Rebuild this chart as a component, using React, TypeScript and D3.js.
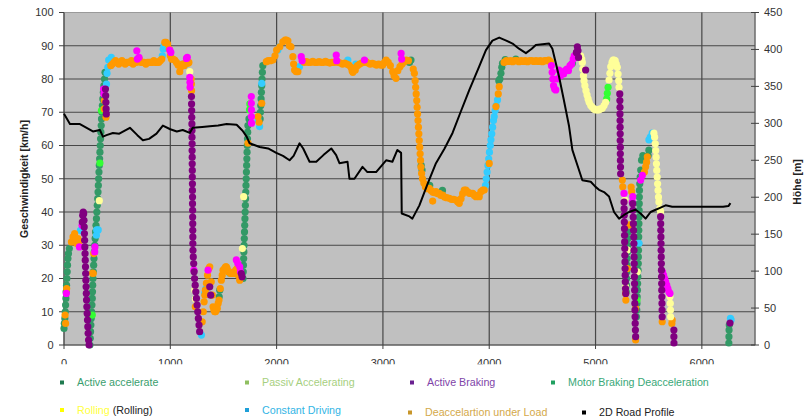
import React from "react";
import * as d3 from "d3";

type P = [number, number];

const xTicks = [0, 1000, 2000, 3000, 4000, 5000, 6000];
const speedTicks = [0, 10, 20, 30, 40, 50, 60, 70, 80, 90, 100];
const heightTicks = [0, 50, 100, 150, 200, 250, 300, 350, 400, 450];

// Active accelerate
const activeAccelerate: P[] = [
  [0,5],[3,6.5],[8,8],[12,10],[15,12],[18,14],[20,16],[24,18],[27,20],[30,22],[33,24],[37,26],[42,27.5],[50,29],
  [244,0],[247,2],[250,4],[253,6],[256,8],[260,10],[263,12],[266,14],[268,16],[270,18],[273,20],[276,22],[279,24],[282,26],[285,28],[289,30],[293,32],[297,34],[301,36],[305,38],[309,40],[313,42],[317,44],[320,46],[323,48],[326,50],[329,52],[332,54],[335,56],[338,58],[341,60],[344,62],[347,64],[350,66],[353,68],[357,70],[361,72],[365,74],[370,76],[375,78],[381,80],[386,82],
  [1460,14.5],[1465,16.5],
  [1684,20],[1686,22],[1688,24],[1690,26],[1692,28],[1694,30],[1696,32],[1698,34],[1700,36],[1702,38],[1704,40],[1706,42],[1708,44],[1710,46],[1712,48],[1714,50],[1716,52],[1718,54],[1720,56],[1722,58],[1724,60],[1726,62],[1728,64],[1730,66],[1740,68],
  [1845,68],[1848,70],[1851,72],[1854,74],[1857,76],[1860,78],[1863,80],[1866,82],[1870,84],
  [3250,85],[3264,85.7],[3360,54],[3368,52.6],[3440,48],[3560,46.5],
  [4090,79.5],[4100,80],[4110,81.7],[4118,83.5],[4125,84.7],[4150,85.8],[4250,86],
  [4782,84.7],[4810,86.5],
  [5288,16],[5290,18],[5292,20],[5294,22],[5296,24],[5298,26],[5300,28],[5302,30],[5304,32],[5306,34],
  [5385,8.5],[5388,10.5],[5390,12.5],[5392,14.5],[5394,16.5],[5396,18.5],[5398,20.5],[5400,22.5],[5402,24.5],[5403,26.5],[5404,28.5],[5405,30.5],[5406,32.5],[5407,34.5],[5408,36.5],[5409,38.5],[5410,40.5],[5411,42.5],[5412,44.5],[5413,46.5],[5416,48.5],[5420,50.5],[5425,52.6],[5433,55.6],[5445,57],[5495,57],[5502,58.6],
  [6254,0.6],[6255,2.5],[6256,4.5],[6258,6],
];

// Passiv Accelerating
const passivAccelerating: P[] = [
  [266,9],[338,54.7],[352,70.5],[1745,70.7],[1748,72.5],[5105,74],[5111,75.7],[5118,77.5],[5390,13.5],
];

// Active Braking
const activeBraking: P[] = [
  [172,37],[176,39],[181,40],[185,39.5],[188,37.5],[190,35.5],[192,33.5],[194,31.5],[196,29.5],[198,27.5],[200,25.5],[202,23.5],[204,21.5],[206,19.5],[208,17.5],[210,15.5],[212,13.5],[215,11.5],[218,9.5],[221,7.5],[224,5.5],[227,3.5],[231,1.5],[236,0],
  [390,77],[392,75],[394,73],[396,71],[398,69.5],
  [1199,74.7],[1200,72.5],[1201,70.5],[1202,68.5],[1203,66.5],[1204,64.5],[1204,62.5],[1205,60.5],[1205,58.5],[1206,56.5],[1206,54.5],[1207,52.5],[1207,50.5],[1208,48.5],[1208,46.5],[1209,44.5],[1209,42.5],[1210,40.5],[1210,38.5],[1211,36.5],[1211,34.5],[1212,32.5],[1212,30.5],[1213,28.5],[1216,26.5],[1220,24.5],[1224,22],[1228,20],[1234,18],[1240,16],[1246,14],[1252,12],[1258,10],[1264,8],[1270,6],[1276,4],
  [1371,17.5],[1380,15],[1668,21.5],[1675,20.5],
  [4820,88],[4829,89.7],[4835,88.5],[4840,86.5],[4907,82.7],
  [5228,75.5],[5229,73.5],[5230,71.5],[5230,69.5],[5231,67.5],[5231,65.5],[5232,63.5],[5232,61.5],[5233,59.5],[5233,57.5],[5234,55.5],[5235,53.5],[5236,51.5],
  [5268,43],[5269,41],[5270,39],[5271,37],[5272,35],[5273,33],[5274,31],[5275,29],[5276,27],[5277,25],[5278,23],[5279,21],[5280,19],[5282,17],[5284,15.5],
  [5350,42.5],[5352,40.5],[5354,38.5],[5356,36.5],[5358,34.5],[5360,32.5],[5361,30.5],[5362,28.5],[5363,26.5],[5364,24.5],[5365,22.5],[5366,20.5],[5367,18.5],[5368,16.5],[5369,14.5],[5370,12.5],[5371,10.5],[5372,8.5],[5373,6.5],[5375,4.5],[5377,2.5],
  [5612,38.6],[5613,36.5],[5614,34.5],[5615,32.5],[5616,30.5],[5617,28.5],[5618,26.5],[5619,24.5],[5620,22.5],[5621,20.5],[5622,18.5],[5623,16.5],[5624,14.5],[5625,12.5],[5626,10.5],[5627,8.5],
  [5737,4.5],[5737,2.5],[5738,0.6],[6265,6.6],
];

// Motor Braking Deacceleration (magenta dots in the plot)
const motorBraking: P[] = [
  [22,15.5],[145,29.5],[170,36],[289,28],[291,29.5],[372,77],[375,75.5],[685,88.5],[690,86],[705,86.5],[995,88.7],[1005,88],[1152,86.2],[1160,86.5],[1183,80.5],[1185,79],[1186,77.5],[1222,22.5],
  [1355,22.5],[1621,25.6],[1635,24.5],[1653,23.5],[1660,22],[1762,74.7],[1762,72.7],[1763,70.7],[1763,68.7],[1764,66.7],
  [2232,86.7],[2240,85.5],[2561,87.2],[2565,85.5],[2826,85.7],[3171,87.7],[3176,86],
  [4585,84],[4592,82],[4598,80],[4605,78],[4615,77],[4626,76.7],[4640,80],[4657,82.7],[4670,81],[4685,82],[4700,81.5],[4715,82.5],[4730,83],[4745,82.5],[4760,84],[4775,84.5],[4790,86],[4800,87],
  [5268,45.6],[5345,43],[5350,44.6],[5424,49.6],[5440,51],
  [5630,22],[5640,21],[5650,20],[5660,19],[5670,18],[5680,17],[5690,16],[5700,15.5],
];

// Rolling
const rolling: P[] = [
  [332,43.4],[1183,82.2],[1230,16.5],[1236,13.8],[1678,29],[1690,44.6],
  [4860,87],[4870,86],[4876,85],[4880,83],[4886,81],[4892,79.5],[4900,78],[4910,76.5],[4920,75.2],[4930,74],[4940,73],[4955,72],[4970,71.5],[4985,71],[5000,70.7],[5017,70.7],[5030,70.7],[5045,71],[5064,71.2],[5080,72],[5095,73],[5127,79.7],[5135,81.7],[5143,83.7],[5155,85],[5165,85.7],[5174,85.7],[5185,85.5],[5195,84.5],[5205,83.5],[5212,81.5],[5218,79.5],[5221,77.5],
  [5277,43.6],[5283,17.5],[5299,28.6],[5393,22],
  [5549,63.7],[5556,62.5],[5562,60.5],[5566,58.5],[5570,56.5],[5573,54.5],[5576,52.5],[5580,50.5],[5584,48.5],[5588,46.5],[5592,44.5],[5596,43],[5605,41],[5612,40.1],
  [5700,14.5],[5703,12.5],[5705,10.5],[5706,8.5],
];

// Constant Driving
const constantDriving: P[] = [
  [155,34.5],[305,33],[307,34.6],[322,34.6],[400,78.5],[405,81.7],[412,83.5],[420,85.7],[430,85.7],[445,86.5],[925,87],[933,89],[940,90],[1120,84.5],[1136,84.2],[1293,3],[1324,15.5],[1335,17],[1559,21.5],
  [1825,67.7],[1840,65.7],[1860,78.7],[2012,88.7],[2028,89.7],[2215,83.7],[2670,85.7],[2745,84.5],
  [3965,48],[3972,50],[3980,52],[3988,54],[3995,56],[4002,58],[4010,60],[4016,61.7],[4024,63.5],[4032,65.5],[4040,67.5],[4047,68.7],[4056,70.5],[4065,72],[4078,73.7],
  [5409,30.6],[5502,61.7],[5515,62.5],[5533,63.7],[6269,8],[6275,7.6],
];

// Deaccelartion under Load
const deaccelUnderLoad: P[] = [
  [10,9],[15,6.5],[25,17],[70,31],[85,32.5],[100,33.5],[110,31.5],[120,30.5],[130,32],[140,31],[269,21.6],[275,21.5],[280,27.5],[378,71],[380,73.5],[395,68.5],
  [440,84],[455,84.5],[470,85],[485,85.5],[500,85],[515,84.5],[530,85],[545,85.5],[560,85],[575,84.5],[590,85],[605,85],[620,85],[635,85.5],[650,84.5],[665,85],[680,85],[695,85.5],[710,86],[725,85],[740,85],[755,85],[770,84.5],[785,85],[800,85],[815,85],[830,85],[845,85.5],[860,85],[875,85],[890,85],[905,85.5],[920,86],
  [948,91],[960,91],[975,90.5],[990,89],[1000,87],[1011,86],[1025,86],[1042,85.7],[1058,85],[1073,84.2],[1089,82.2],[1100,83.7],[1115,84.5],[1130,84],[1150,85],[1167,84.7],[1175,85],[1196,80],[1199,78.5],[1200,76.5],[1235,11.5],
  [1300,7],[1310,10],[1318,13],[1325,15],[1330,16.5],[1340,18.6],[1350,21],[1362,23],[1371,23.5],[1385,19],[1395,15],[1402,11.5],[1410,10.5],[1418,10],[1425,10],[1433,10.5],[1442,11],[1450,12.5],[1458,13.5],[1470,17],[1480,19.5],[1488,21],[1496,22.5],[1510,23],[1520,23.5],[1527,23.5],[1535,23],[1545,22],[1555,22],[1565,21.5],[1575,21.5],[1582,21.5],[1590,21.5],[1598,21.5],[1605,22],[1615,22.5],[1628,23],[1640,21],[1653,19.5],
  [1731,60.7],[1825,68.7],[1835,67],[1860,72.7],
  [1903,85.2],[1920,85.5],[1940,85.5],[1965,85.7],[1985,87],[2000,88.7],[2030,89.7],[2059,91.2],[2080,91.7],[2091,91.7],[2106,91.5],[2120,90],[2135,89.7],[2153,86.7],[2160,84.5],[2169,82.7],[2185,82.2],[2200,82.2],
  [2260,85],[2280,85.2],[2300,85],[2320,85],[2340,85.3],[2360,85],[2380,85],[2400,85.2],[2420,85],[2440,85],[2460,85.3],[2480,85],[2500,84.8],[2520,85],[2540,85],[2560,85.2],[2580,85],[2600,84.8],[2620,84.5],[2640,84.8],[2660,84.5],[2680,84.2],[2700,83.5],[2710,82.5],[2717,82],[2730,83],[2740,82.7],[2760,84],[2780,84.5],[2800,84.8],[2820,85],[2840,85.2],[2860,84.8],[2880,84.5],[2900,84.7],[2920,84.5],[2940,84.2],[2960,84.5],[2980,84.2],[2998,84.2],[3015,85],[3030,85.7],[3050,85],[3070,84],[3092,82.2],[3105,81],[3123,80.2],[3140,82.5],[3160,83.7],[3180,84.5],[3200,85.2],[3218,85.7],[3240,85.5],
  [3285,83],[3296,81.7],[3303,79.5],[3308,77.5],[3313,75.5],[3318,73.5],[3322,71.5],[3326,69.5],[3330,67.5],[3334,65.5],[3338,63.5],[3342,61.5],[3346,59.5],[3350,57.5],[3354,55.5],[3358,53.5],[3364,51.6],[3372,50],[3385,48.7],
  [3400,47.5],[3420,47],[3437,47.1],[3452,46.5],[3468,46],[3468,43.3],[3485,45.8],[3499,46.1],[3515,45.5],[3530,45.6],[3545,45],[3562,45.1],[3580,44.5],[3600,44.3],[3624,44.1],[3645,43.8],[3665,43.8],[3687,43.6],[3705,43],[3718,42.6],[3735,44],[3750,45.5],[3765,46.6],[3781,46.6],[3800,46],[3815,45.6],[3828,45.6],[3845,45.6],[3860,45],[3875,44.6],[3890,45],[3906,44.6],[3922,46.1],[3940,46.6],[3953,46.6],
  [4000,54.6],[4063,71.7],[4085,75.5],[4094,77.7],
  [4140,85],[4160,85.5],[4180,85.3],[4200,85.5],[4220,85.2],[4240,85.5],[4260,85.5],[4280,85.2],[4300,85.5],[4320,85.3],[4340,85.5],[4360,85.2],[4380,85.5],[4400,85.5],[4420,85.3],[4440,85.5],[4460,85.3],[4480,85.5],[4500,85.2],[4520,85.5],[4540,85.5],[4560,85.7],[4575,85.2],
  [5252,49.6],[5256,47.6],[5283,15.5],[5285,13.5],[5299,23],[5321,36.1],[5335,47.5],[5340,46.1],[5377,1.5],[5377,11],[5460,52],[5471,53.6],[5480,55],[5487,56.6],[5627,7],[5718,6.5],[5721,7.5],
];

// 2D Road Profile (Höhe in m)
const roadProfile: P[] = [
  [0,313],[56,299],[150,299],[272,289],[338,291],[366,282],[400,284],[460,287],[520,286],[620,294],[690,284],[742,277],[800,279],[870,286],[930,297],[1000,292],[1061,289],[1117,291],[1183,287],[1211,294],[1300,295],[1371,296],[1450,297],[1530,299],[1624,298],[1680,290],[1718,282],[1746,273],[1840,268],[1920,266],[1997,260],[2060,256],[2122,250],[2160,256],[2216,273],[2250,266],[2310,248],[2373,248],[2440,257],[2514,266],[2560,257],[2591,246],[2667,248],[2685,225],[2732,225],[2808,241],[2854,234],[2936,234],[3030,250],[3089,248],[3136,264],[3171,260],[3177,178],[3249,174],[3277,171],[3343,189],[3420,218],[3499,246],[3580,266],[3655,287],[3730,315],[3812,345],[3906,377],[3969,399],[4030,412],[4094,416],[4160,412],[4219,408],[4280,401],[4345,395],[4400,401],[4438,406],[4500,407],[4563,408],[4594,401],[4657,363],[4700,333],[4751,296],[4782,264],[4814,250],[4876,223],[4955,221],[5000,214],[5033,210],[5080,207],[5127,201],[5174,180],[5221,171],[5268,176],[5315,180],[5377,183],[5424,178],[5471,171],[5518,180],[5565,183],[5596,185],[5659,189],[5721,187],[5800,187],[5900,187],[6000,187],[6100,187],[6200,187],[6250,188],[6269,192],
];

const seriesDefs = [
  { name: "Active accelerate", data: activeAccelerate, fill: "#339966" },
  { name: "Passiv Accelerating", data: passivAccelerating, fill: "#33ff33" },
  { name: "Constant Driving", data: constantDriving, fill: "#33ccff" },
  { name: "Deaccelartion under Load", data: deaccelUnderLoad, fill: "#ff9900" },
  { name: "Rolling", data: rolling, fill: "#ffff99" },
  { name: "Motor Braking Deacceleration", data: motorBraking, fill: "#ff00ff" },
  { name: "Active Braking", data: activeBraking, fill: "#800080" },
];

const legendItems = [
  { label: "Active accelerate", marker: "#1f7a4f", color: "#3a9e6e", x: 62, y: 382.5 },
  { label: "Passiv Accelerating", marker: "#8fbf60", color: "#a6cf80", x: 247, y: 382.5 },
  { label: "Active Braking", marker: "#6a2090", color: "#8044a8", x: 412, y: 382.5 },
  { label: "Motor Braking Deacceleration", marker: "#20a060", color: "#3aa878", x: 553, y: 382.5 },
  { label: "Rolling", marker: "#ffff00", color: "#ffff40", x: 62, y: 410, extra: " (Rolling)" },
  { label: "Constant Driving", marker: "#1e9fd8", color: "#33b5e5", x: 247, y: 410 },
  { label: "Deaccelartion under Load", marker: "#c8962a", color: "#d4a94a", x: 410, y: 412.5 },
  { label: "2D Road Profile", marker: "#000000", color: "#222222", x: 584, y: 412.5 },
];

export default function App() {
  const W = 804, H = 418;
  const L = 64, R = 755, T = 12.5, B = 345;
  const x = d3.scaleLinear().domain([0, 6500]).range([L, R]);
  const y = d3.scaleLinear().domain([0, 100]).range([B, T]);
  const y2 = d3.scaleLinear().domain([0, 450]).range([B, T]);
  const line = d3.line<P>().x((d) => x(d[0])).y((d) => y2(d[1]));
  const font = "'Liberation Sans', Arial, sans-serif";
  const grid = "#474747";

  return (
    <svg width={W} height={H} style={{ position: "absolute", left: 0, top: 0, display: "block", background: "#fff" }} fontFamily={font}>
      <defs>
        <clipPath id="xlab">
          <rect x={0} y={349} width={W} height={15.3} />
        </clipPath>
      </defs>
      <rect x={L} y={T} width={R - L} height={B - T} fill="#c0c0c0" stroke="#9a9a9a" strokeWidth={1} />
      {speedTicks.filter((t) => t > 0 && t < 100).map((t) => (
        <line key={"h" + t} x1={L} x2={R} y1={y(t)} y2={y(t)} stroke={grid} strokeWidth={1.2} />
      ))}
      {xTicks.filter((t) => t > 0).map((t) => (
        <line key={"v" + t} x1={x(t)} x2={x(t)} y1={T} y2={B} stroke={grid} strokeWidth={1.2} />
      ))}
      <line x1={L} x2={L} y1={T} y2={B} stroke="#404040" strokeWidth={1.2} />
      <line x1={L} x2={R} y1={B} y2={B} stroke="#404040" strokeWidth={1.2} />
      <line x1={R} x2={R} y1={T} y2={B} stroke="#555" strokeWidth={1} />
      {speedTicks.map((t) => (
        <g key={"yl" + t}>
          <line x1={L - 5} x2={L} y1={y(t)} y2={y(t)} stroke="#404040" />
          <text x={53.5} y={y(t)} dy="0.35em" textAnchor="end" fontSize={11} fill="#333">{t}</text>
        </g>
      ))}
      {heightTicks.map((t) => (
        <g key={"yr" + t}>
          <line x1={R - 4} x2={R + 4} y1={y2(t)} y2={y2(t)} stroke="#404040" />
          <text x={764} y={y2(t)} dy="0.35em" textAnchor="start" fontSize={11} fill="#333">{t}</text>
        </g>
      ))}
      {xTicks.map((t) => (
        <line key={"xt" + t} x1={x(t)} x2={x(t)} y1={B} y2={B + 4} stroke="#404040" />
      ))}
      <g clipPath="url(#xlab)">
        {xTicks.map((t) => (
          <text key={"xl" + t} x={x(t)} y={366.5} textAnchor="middle" fontSize={11} fill="#333">{t}</text>
        ))}
      </g>
      <text transform="translate(27.5,179) rotate(-90)" textAnchor="middle" fontSize={10.5} fontWeight="bold" fill="#222">Geschwindigkeit [km/h]</text>
      <text transform="translate(800.5,182) rotate(-90)" textAnchor="middle" fontSize={10.5} fontWeight="bold" fill="#222">Höhe [m]</text>

      {seriesDefs.map((s) => (
        <g key={s.name}>
          {s.data.map((d, i) => (
            <circle key={i} cx={x(d[0])} cy={y(d[1])} r={3.6} fill={s.fill} />
          ))}
        </g>
      ))}
      <path d={line(roadProfile) || ""} fill="none" stroke="#000" strokeWidth={2} strokeLinejoin="round" />

      {legendItems.map((it) => (
        <g key={it.label}>
          <rect x={it.x - 2} y={it.y - 2} width={4} height={4} fill={it.marker} />
          <text x={it.x + 15} y={it.y} dy="0.35em" fontSize={10.7} fill={it.color}>
            {it.label}
            {it.extra ? <tspan fill="#222">{it.extra}</tspan> : null}
          </text>
        </g>
      ))}
    </svg>
  );
}
